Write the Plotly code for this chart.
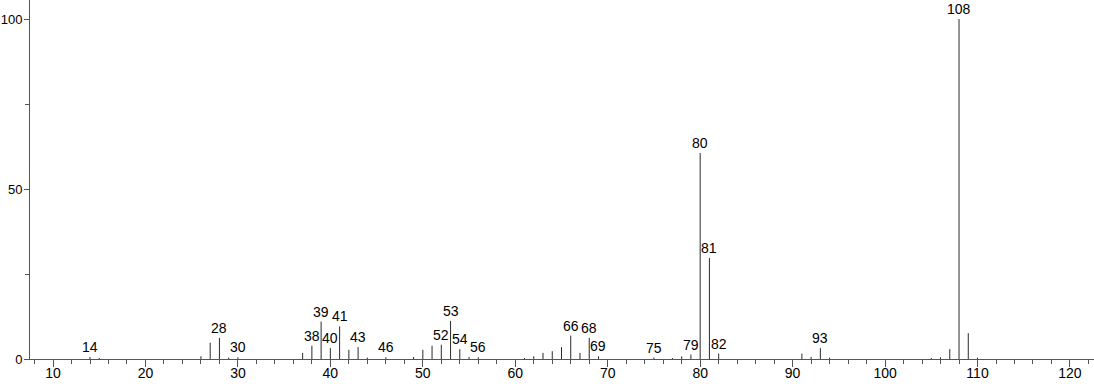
import plotly.graph_objects as go

# m/z values and relative intensities
mz = [14, 15, 26, 27, 28, 29, 30, 37, 38, 39, 40, 41, 42, 43, 44, 46, 49, 50, 51, 52, 53,
      54, 55, 56, 61, 62, 63, 64, 65, 66, 67, 68, 69, 75, 77, 78, 79, 80, 81, 82,
      91, 92, 93, 94, 105, 106, 107, 108, 109, 110]
intensity = [0.6, 0.3, 0.8, 4.8, 6.2, 0.4, 0.5, 1.8, 3.9, 11.0, 3.2, 9.6, 2.7, 3.5, 0.4, 0.5, 0.6, 2.7, 3.9, 4.2, 11.2,
             2.9, 0.6, 0.5, 0.3, 0.8, 1.8, 2.3, 3.5, 6.9, 1.8, 6.2, 0.8, 0.4, 0.3, 0.8, 1.3, 60.6, 29.7, 1.6,
             1.6, 0.6, 3.2, 0.4, 0.3, 0.5, 2.9, 100.0, 7.6, 0.4]
labelled = [14, 28, 30, 38, 39, 40, 41, 43, 46, 52, 53, 54, 56, 66, 68, 69, 75, 79, 80, 81, 82, 93, 108]

xs, ys = [], []
for m, v in zip(mz, intensity):
    xs += [m, m, None]
    ys += [0, v, None]

fig = go.Figure()
fig.add_trace(go.Scatter(x=xs, y=ys, mode="lines",
                         line=dict(color="#2a2a2a", width=1),
                         hoverinfo="skip", showlegend=False))

lookup = dict(zip(mz, intensity))
for m in labelled:
    fig.add_annotation(x=m, y=lookup[m], text=str(m), showarrow=False,
                       xanchor="center", yanchor="bottom", yshift=0,
                       font=dict(family="Liberation Sans, Arial, sans-serif", size=14, color="#000"))

fig.update_layout(
    width=1094, height=384,
    margin=dict(l=30, r=0, t=0, b=25),
    paper_bgcolor="white", plot_bgcolor="white",
    font=dict(family="Liberation Sans, Arial, sans-serif", size=14, color="#000"),
    xaxis=dict(range=[7.51, 122.6], dtick=10, tick0=0, ticks="outside", ticklen=7,
               tickcolor="#555", showline=True, linecolor="#555", linewidth=1,
               showgrid=False, zeroline=False, tickfont=dict(size=14),
               automargin=False, ticklabelstandoff=-6,
               minor=dict(dtick=2, tick0=0, ticks="outside", ticklen=4, tickcolor="#555", showgrid=False)),
    yaxis=dict(range=[0, 105.6], tickvals=[0, 50, 100], ticks="outside", ticklen=5,
               tickcolor="#555", showline=True, linecolor="#555", linewidth=1,
               showgrid=False, zeroline=False, tickfont=dict(size=13),
               automargin=False, ticklabelstandoff=-1,
               minor=dict(tickvals=[25, 75], ticks="outside", ticklen=4, tickcolor="#555", showgrid=False)),
)

fig.write_html("out.html")
